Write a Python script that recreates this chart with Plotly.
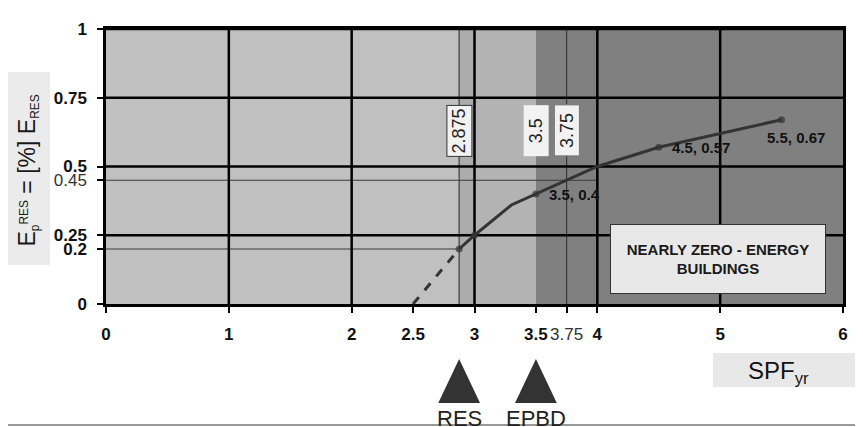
import plotly.graph_objects as go

# curve data (SPF_yr vs share of energy from RES)
dash_x = [2.5, 2.875]
dash_y = [0.0, 0.2]
curve_x = [2.875, 3.0, 3.3, 3.5, 4.0, 4.5, 5.0, 5.5]
curve_y = [0.2, 0.25, 0.36, 0.4, 0.5, 0.57, 0.62, 0.67]
dot_size = [7, 7, 0, 7, 0, 7, 0, 7]

# labelled points
label_x = [3.5, 4.5, 5.5]
label_y = [0.4, 0.57, 0.67]

# shaded zones along the x axis
zone_edges = [0, 2.875, 3.0, 3.5, 6]
zone_colors = ["#c0c0c0", "#acacac", "#b3b3b3", "#808080"]

# axis ticks
x_ticks = [0, 1, 2, 2.5, 3, 3.5, 3.75, 4, 5, 6]
x_ticktext = ["<b>0</b>", "<b>1</b>", "<b>2</b>", "<b>2.5</b>", "<b>3</b>", "<b>3.5</b>",
              "<span style='color:#333'>3.75</span>", "<b>4</b>", "<b>5</b>", "<b>6</b>"]
y_ticks = [0, 0.2, 0.25, 0.45, 0.5, 0.75, 1]
y_ticktext = ["<b>0</b>", "<b>0.2</b>", "<b>0.25</b>", "<span style='color:#333'>0.45</span>",
              "<b>0.5</b>", "<b>0.75</b>", "<b>1</b>"]

# major grid and thin reference lines
major_x = [1, 2, 3, 4, 5]
major_y = [0.25, 0.5, 0.75, 1]
ref_vlines = [2.875, 3.75]
ref_hlines = [(0.2, 2.875), (0.45, 4.0)]  # (y, x end)

# value boxes and policy markers
value_boxes = [2.875, 3.5, 3.75]
value_box_border = ["#333333", "rgba(0,0,0,0)", "#777777"]
policy_x = [2.875, 3.5]
policy_names = ["RES", "EPBD"]

FONT = "Liberation Sans, Arial, sans-serif"

fig = go.Figure()

fig.add_trace(go.Scatter(x=dash_x, y=dash_y, mode="lines",
                         line=dict(color="#333333", width=3, dash="dash"),
                         showlegend=False, hoverinfo="skip"))
fig.add_trace(go.Scatter(x=curve_x, y=curve_y, mode="lines+markers",
                         line=dict(color="#333333", width=3),
                         marker=dict(size=dot_size, color="#333333", line=dict(width=0)),
                         showlegend=False))

shapes = []
for i, c in enumerate(zone_colors):
    shapes.append(dict(type="rect", xref="x", yref="y", x0=zone_edges[i], x1=zone_edges[i + 1],
                       y0=0, y1=1, fillcolor=c, line=dict(width=0), layer="below"))
for v in ref_vlines:
    shapes.append(dict(type="line", xref="x", yref="y", x0=v, x1=v, y0=0, y1=1,
                       line=dict(color="#3a3a3a", width=1.2), layer="below"))
for yv, xe in ref_hlines:
    shapes.append(dict(type="line", xref="x", yref="y", x0=0, x1=xe, y0=yv, y1=yv,
                       line=dict(color="#3a3a3a", width=1.2), layer="below"))
for v in major_x:
    shapes.append(dict(type="line", xref="x", yref="y", x0=v, x1=v, y0=0, y1=1,
                       line=dict(color="#000000", width=2.5), layer="below"))
for v in major_y:
    shapes.append(dict(type="line", xref="x", yref="y", x0=0, x1=6, y0=v, y1=v,
                       line=dict(color="#000000", width=2.5), layer="below"))

# policy triangles below the x axis
for px in policy_x:
    shapes.append(dict(type="path", xref="x", yref="paper",
                       path=f"M {px - 0.17} -0.36 L {px + 0.17} -0.36 L {px} -0.2 Z",
                       fillcolor="#333333", line=dict(width=0)))

# y title box and x title box
shapes.append(dict(type="rect", xref="paper", yref="paper", x0=-0.133, x1=-0.076,
                   y0=0.142, y1=0.844, fillcolor="#ebebeb", line=dict(width=0)))
shapes.append(dict(type="rect", xref="paper", yref="paper", x0=0.8236, x1=1.0176,
                   y0=-0.302, y1=-0.178, fillcolor="#e8e8e8", line=dict(width=0)))
# frame edges (right and bottom)
shapes.append(dict(type="line", xref="paper", yref="paper", x0=1.0244, x1=1.0244,
                   y0=-0.45, y1=1.1, line=dict(color="#333333", width=2)))
shapes.append(dict(type="line", xref="paper", yref="paper", x0=-0.14, x1=1.03,
                   y0=-0.44, y1=-0.44, line=dict(color="#999999", width=2)))

annotations = []
for i, (lx, ly) in enumerate(zip(label_x, label_y)):
    last = i == len(label_x) - 1
    annotations.append(dict(x=lx, y=ly, xref="x", yref="y", text=f"<b>{lx}, {ly}</b>",
                            showarrow=False, xanchor="center" if last else "left",
                            xshift=14 if last else 11, yshift=-18 if last else 0,
                            font=dict(family=FONT, size=15, color="#111111")))
for v, bc in zip(value_boxes, value_box_border):
    annotations.append(dict(x=v, y=0.63, xref="x", yref="y", text=str(v), showarrow=False,
                            textangle=-90, font=dict(family=FONT, size=18, color="#222222"),
                            bgcolor="#f2f2f2", bordercolor=bc, borderwidth=1,
                            borderpad=2, width=46, height=20))
for px, name in zip(policy_x, policy_names):
    annotations.append(dict(x=px, y=-0.469, xref="x", yref="paper", text=name, showarrow=False,
                            yanchor="bottom", font=dict(family=FONT, size=22, color="#222222")))

annotations.append(dict(x=4.98, y=0.164, xref="x", yref="y",
                        text="<b>NEARLY ZERO - ENERGY<br>BUILDINGS</b>", showarrow=False,
                        font=dict(family=FONT, size=15, color="#1a1a1a"),
                        bgcolor="#e8e8e8", bordercolor="#333333", borderwidth=1,
                        borderpad=1, width=212, height=66))
annotations.append(dict(x=-0.127, y=0.487, xref="paper", yref="paper", showarrow=False,
                        textangle=-90, xanchor="left",
                        text="E<span style='font-size:17px'><sub>p</sub><sup>RES</sup></span>"
                             " = [%] E<span style='font-size:17px'><sub>RES</sub></span>",
                        font=dict(family=FONT, size=23, color="#1a1a1a")))
annotations.append(dict(x=0.957, y=-0.313, xref="paper", yref="paper", showarrow=False,
                        text="SPF<sub>yr</sub>",
                        font=dict(family=FONT, size=24, color="#111111")))

fig.update_layout(
    width=855, height=419,
    margin=dict(l=98, r=20, t=21, b=123),
    paper_bgcolor="white", plot_bgcolor="white",
    font=dict(family=FONT),
    shapes=shapes, annotations=annotations,
    xaxis=dict(range=[0, 6], tickvals=x_ticks, ticktext=x_ticktext, showgrid=False,
               zeroline=False, showline=True, linecolor="#000000", linewidth=2.5, mirror=True,
               ticks="outside", ticklen=6, tickwidth=2, tickcolor="#000000",
               ticklabelstandoff=7, tickfont=dict(family=FONT, size=17, color="#111111")),
    yaxis=dict(range=[0, 1], tickvals=y_ticks, ticktext=y_ticktext, showgrid=False,
               zeroline=False, showline=True, linecolor="#000000", linewidth=2.5, mirror=True,
               ticks="outside", ticklen=6, tickwidth=2, tickcolor="#000000",
               ticklabelstandoff=7, tickfont=dict(family=FONT, size=17, color="#111111")),
)

fig.write_html("out.html")
